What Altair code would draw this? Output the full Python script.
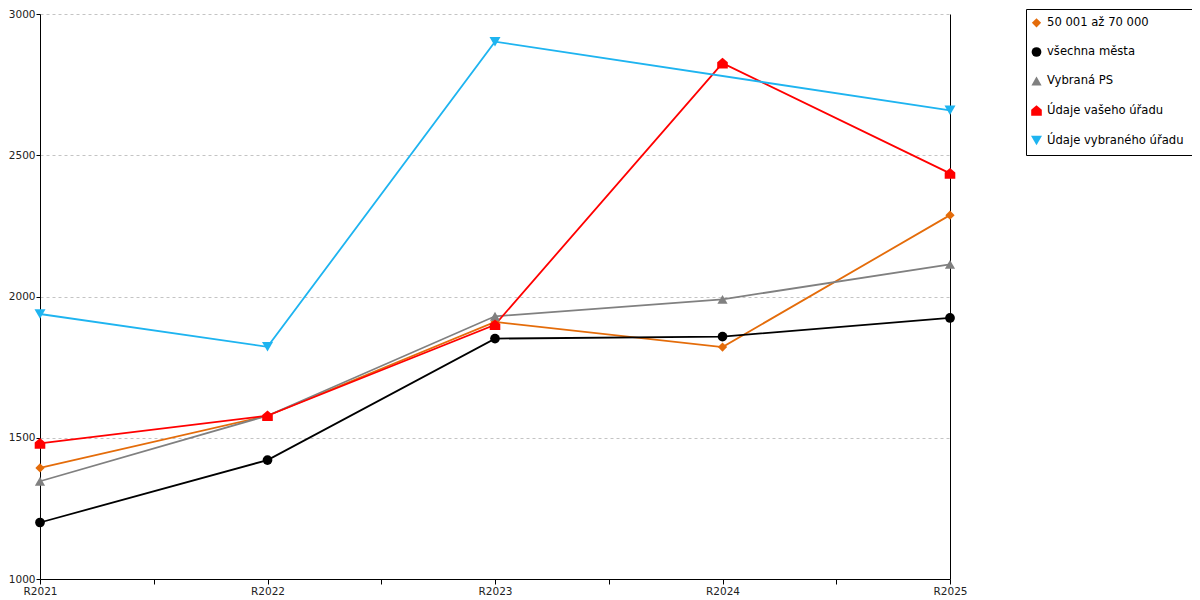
import json
import altair as alt
import pandas as pd

categories = ["R2021", "R2022", "R2023", "R2024", "R2025"]
series = ["50 001 až 70 000", "všechna města", "Vybraná PS",
          "Údaje vašeho úřadu", "Údaje vybraného úřadu"]
v_50_70 = [1393, 1578, 1910, 1821, 2288]
v_vsechna = [1200, 1421, 1851, 1858, 1924]
v_ps = [1346, 1578, 1930, 1990, 2114]
v_vas = [1480, 1578, 1900, 2826, 2436]
v_vybr = [1938, 1822, 2902, None, 2659]

colors = ["#E46C0A", "#000000", "#808080", "#FF0000", "#1EB4F0"]
shapes = ["diamond", "circle", "triangle-up",
          "M-1,1L1,1L1,-0.15L0,-1L-1,-0.15Z", "triangle-down"]
sizes = [86, 121, 121, 121, 121]

rows = []
for s, col, vals in zip(series, colors, [v_50_70, v_vsechna, v_ps, v_vas, v_vybr]):
    for i, (c, v) in enumerate(zip(categories, vals)):
        if v is not None:
            rows.append({"series": s, "barva": col, "idx": i, "kat": c, "value": v})
df = pd.DataFrame(rows)

FONT = "DejaVu Sans"
cat_js = json.dumps(categories)

x_axis = alt.Axis(
    values=[i * 0.5 for i in range(2 * len(categories) - 1)],
    labelExpr=f"datum.value % 1 === 0 ? {cat_js}[datum.value] : ''",
    title=None, grid=False, domainColor="black", tickColor="black",
    tickSize=5, labelFontSize=10.5, labelColor="#222", labelFont=FONT,
    labelPadding=2, labelFlush=False, labelOverlap=False,
)
x_scale = alt.Scale(domain=[0, len(categories) - 1], nice=False, zero=False)
y_scale = alt.Scale(domain=[1000, 3000], nice=False, zero=False)

color_scale = alt.Scale(domain=series, range=colors)

legend_opts = dict(
    title=None, orient="none", legendX=986, legendY=-5,
    strokeColor="black", fillColor="white", padding=8, rowPadding=17,
    labelFontSize=11.6, labelFont=FONT, labelColor="black",
    symbolSize=100, symbolOffset=-4, labelOffset=4,
)

lines = alt.Chart(df).mark_line(strokeWidth=1.8).encode(
    x=alt.X("idx:Q", scale=x_scale, axis=x_axis),
    y=alt.Y("value:Q", scale=y_scale, axis=alt.Axis(
        values=[1000, 1500, 2000, 2500, 3000], format="d", title=None,
        grid=True, gridDash=[3, 3], gridColor="#c4c4c4", domainColor="black",
        tickColor="black", tickSize=4, labelFontSize=10.5, labelColor="#222",
        labelFont=FONT, labelPadding=1)),
    color=alt.Color("barva:N", scale=None),
    detail="series:N",
)

points = alt.Chart(df).mark_point(filled=True, opacity=1).encode(
    x=alt.X("idx:Q", scale=x_scale, axis=x_axis),
    y=alt.Y("value:Q", scale=y_scale, axis=alt.Axis(
        orient="right", labels=False, ticks=False, grid=False,
        domainColor="black", title=None)),
    color=alt.Color("series:N", scale=color_scale, legend=alt.Legend(**legend_opts)),
    shape=alt.Shape("series:N", scale=alt.Scale(domain=series, range=shapes),
                    legend=alt.Legend(**legend_opts)),
    size=alt.Size("series:N", scale=alt.Scale(domain=series, range=sizes),
                  legend=alt.Legend(**legend_opts)),
)

chart = alt.layer(lines, points).resolve_axis(y="independent").properties(
    width=910, height=565,
    autosize=alt.AutoSizeParams(type="none"),
    padding={"left": 32, "top": 6, "right": 242, "bottom": 20},
).configure_view(stroke=None)

chart.save("out.html", embed_options={"renderer": "svg", "actions": False})
